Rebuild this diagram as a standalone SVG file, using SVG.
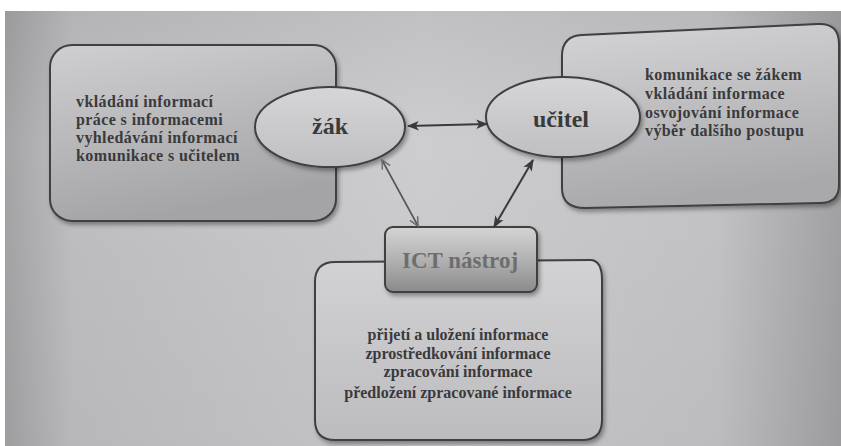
<svg xmlns="http://www.w3.org/2000/svg" width="841" height="446" viewBox="0 0 841 446">
  <defs>
    <linearGradient id="bg" x1="0" y1="0" x2="1" y2="0">
      <stop offset="0" stop-color="#a4a4a6"/>
      <stop offset="0.08" stop-color="#bfbfc1"/>
      <stop offset="0.5" stop-color="#cdcdcf"/>
      <stop offset="0.85" stop-color="#c4c4c6"/>
      <stop offset="1" stop-color="#a2a2a4"/>
    </linearGradient>
    <linearGradient id="bgv" x1="0" y1="0" x2="0" y2="1">
      <stop offset="0" stop-color="#000" stop-opacity="0.06"/>
      <stop offset="0.3" stop-color="#000" stop-opacity="0"/>
      <stop offset="1" stop-color="#000" stop-opacity="0.04"/>
    </linearGradient>
    <linearGradient id="boxfill" x1="0" y1="0" x2="0.3" y2="1">
      <stop offset="0" stop-color="#cfcfd1"/>
      <stop offset="1" stop-color="#a4a4a6"/>
    </linearGradient>
    <linearGradient id="boxfillR" x1="0" y1="0" x2="0.2" y2="1">
      <stop offset="0" stop-color="#d4d4d6"/>
      <stop offset="1" stop-color="#a9a9ab"/>
    </linearGradient>
    <linearGradient id="botfill" x1="0" y1="0" x2="0" y2="1">
      <stop offset="0" stop-color="#d2d2d4"/>
      <stop offset="1" stop-color="#bcbcbe"/>
    </linearGradient>
    <linearGradient id="ellfill" x1="0" y1="0" x2="0" y2="1">
      <stop offset="0" stop-color="#d6d6d8"/>
      <stop offset="1" stop-color="#bfbfc1"/>
    </linearGradient>
    <linearGradient id="ictfill" x1="0" y1="0" x2="0" y2="1">
      <stop offset="0" stop-color="#d4d4d4"/>
      <stop offset="0.5" stop-color="#b2b2b2"/>
      <stop offset="1" stop-color="#8a8a8a"/>
    </linearGradient>
    <filter id="sh" x="-10%" y="-10%" width="125%" height="130%">
      <feDropShadow dx="2" dy="3" stdDeviation="2" flood-color="#000" flood-opacity="0.35"/>
    </filter>
    <marker id="ah" viewBox="0 0 10 10" refX="9" refY="5" markerWidth="11" markerHeight="11" orient="auto-start-reverse" markerUnits="userSpaceOnUse">
      <path d="M1,1 L9,5 L1,9" fill="none" stroke="#6a6a6c" stroke-width="1.3"/>
    </marker>
    <marker id="ad" viewBox="0 0 10 10" refX="9" refY="5" markerWidth="12" markerHeight="12" orient="auto-start-reverse" markerUnits="userSpaceOnUse">
      <path d="M0,1 L10,5 L0,9 L2.5,5 z" fill="#3a3a3c"/>
    </marker>
  </defs>
  <style>
    .box { stroke: #3f3f41; stroke-width: 2; }
    .ell { fill: url(#ellfill); stroke: #3f3f41; stroke-width: 2; }
    .txt { font-family: "Liberation Serif", "DejaVu Serif", serif; font-weight: bold; font-size: 16px; letter-spacing: 0.4px; fill: #3a3a3c; }
    .txtc { font-family: "Liberation Serif", "DejaVu Serif", serif; font-weight: bold; font-size: 16px; fill: #3a3a3c; }
    .big { font-family: "Liberation Serif", "DejaVu Serif", serif; font-weight: bold; font-size: 24px; fill: #3a3a3c; }
    .ict { font-family: "Liberation Serif", "DejaVu Serif", serif; font-weight: bold; font-size: 23px; fill: #6e6e70; }
    .con { stroke: #3a3a3c; stroke-width: 2; fill: none; }
  </style>

  <!-- page photo background -->
  <rect x="0" y="0" width="841" height="446" fill="#ffffff"/>
  <rect x="5" y="11" width="836" height="435" fill="url(#bg)"/>
  <rect x="5" y="11" width="836" height="435" fill="url(#bgv)"/>

  <g id="box-zak">
    <rect class="box" x="50" y="45" width="286" height="176" rx="22" fill="url(#boxfill)" filter="url(#sh)"/>
    <text class="txt" x="76" y="107">vkládání informací</text>
    <text class="txt" x="76" y="125">práce s informacemi</text>
    <text class="txt" x="76" y="143">vyhledávání informací</text>
    <text class="txt" x="76" y="161">komunikace s učitelem</text>
  </g>

  <g id="box-ucitel">
    <path class="box" d="M562,56 Q562,36 582,35 L818,24 Q839,23 839,44 L839,185 Q839,203 820,203 L585,208 Q562,208 562,188 Z" fill="url(#boxfillR)" filter="url(#sh)"/>
    <text class="txt" x="645" y="80">komunikace se žákem</text>
    <text class="txt" x="645" y="99">vkládání informace</text>
    <text class="txt" x="645" y="118">osvojování informace</text>
    <text class="txt" x="645" y="136">výběr dalšího postupu</text>
  </g>

  <g id="box-ict">
    <path class="box" d="M315,282 Q315,262 335,262 L590,260 Q602,260 602,280 L602,420 Q602,440 582,440 L335,440 Q315,440 315,420 Z" fill="url(#botfill)" filter="url(#sh)"/>
    <text class="txtc" x="458" y="340" text-anchor="middle">přijetí a uložení informace</text>
    <text class="txtc" x="458" y="359" text-anchor="middle">zprostředkování informace</text>
    <text class="txtc" x="458" y="377" text-anchor="middle">zpracování informace</text>
    <text class="txtc" x="458" y="398" text-anchor="middle">předložení zpracované informace</text>
  </g>

  <g id="node-zak">
    <ellipse class="ell" cx="330" cy="127" rx="75" ry="40" filter="url(#sh)"/>
    <text class="big" x="330" y="134" text-anchor="middle">žák</text>
  </g>

  <g id="node-ucitel">
    <ellipse class="ell" cx="563" cy="117" rx="77" ry="40" filter="url(#sh)"/>
    <text class="big" x="561" y="127" text-anchor="middle">učitel</text>
  </g>

  <g id="node-ict">
    <rect class="box" x="385" y="227" width="152" height="65" rx="8" fill="url(#ictfill)" filter="url(#sh)"/>
    <text class="ict" x="460" y="268" text-anchor="middle">ICT nástroj</text>
  </g>

  <g id="connectors">
    <line class="con" x1="408" y1="126" x2="487" y2="124" marker-start="url(#ad)" marker-end="url(#ad)"/>
    <line x1="382" y1="160" x2="418" y2="226" stroke="#555557" stroke-width="1.6" marker-start="url(#ah)" marker-end="url(#ah)"/>
    <line class="con" x1="533" y1="160" x2="494" y2="227" marker-start="url(#ad)" marker-end="url(#ad)"/>
  </g>
</svg>
